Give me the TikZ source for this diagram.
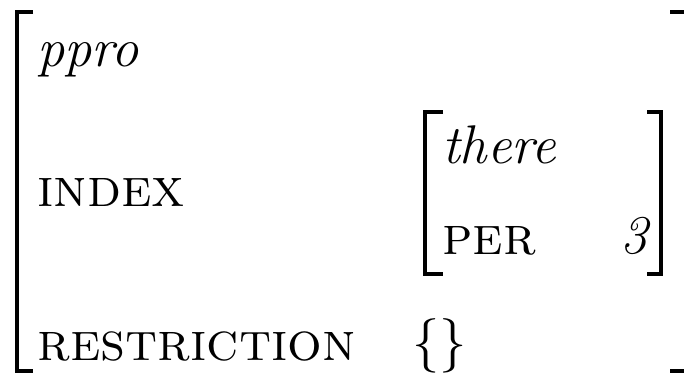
\documentclass[tikz,border=0pt]{standalone}
\begin{document}
\begin{tikzpicture}[x=1pt,y=-1pt,
  txt/.style={inner sep=0pt,font=\fontsize{54.5}{60}\selectfont},
  brk/.style={line width=4pt,line join=miter}]
\useasboundingbox (0,0) rectangle (684,374);
\clip (0,0) rectangle (684,374);
% outer brackets
\draw[brk] (33,12) -- (17.2,12) -- (17.2,371) -- (33,371);
\draw[brk] (670,12) -- (690,12) -- (690,371) -- (670,371);
% inner brackets
\draw[brk] (443,112) -- (425,112) -- (425,273.5) -- (443,273.5);
\draw[brk] (647,112) -- (661,112) -- (661,273.5) -- (647,273.5);
% texts
\node[txt,anchor=base west] (type) at (37,67) {\itshape ppro};
\node[txt,anchor=base west] (index) at (37,206) {\scshape index};
\node[txt,anchor=base west] (there) at (442,163) {\itshape there};
\node[txt,anchor=base west] (per) at (442,254) {\scshape per};
\node[txt,anchor=base east] (three) at (648,253) {\itshape 3};
\node[txt,anchor=base west] (restr) at (37,360) {\scshape restriction};
\node[txt,anchor=base west] (set) at (412,359) {\{\}};
\end{tikzpicture}
\end{document}
